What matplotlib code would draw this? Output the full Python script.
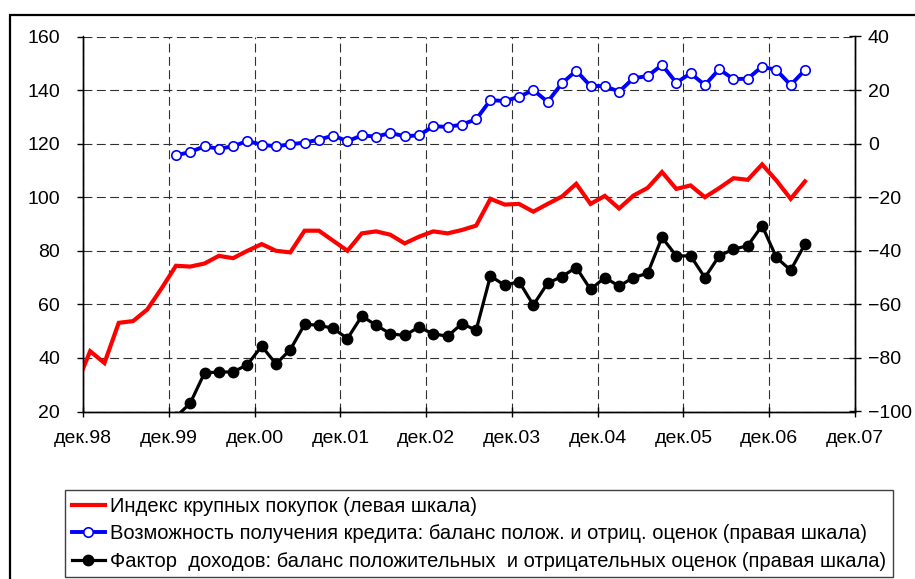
import matplotlib
matplotlib.use("Agg")
import matplotlib.pyplot as plt
from matplotlib.lines import Line2D
from matplotlib.patches import Rectangle

plt.rcParams['font.family'] = ['Liberation Sans', 'DejaVu Sans']

# months since December 1998
x_labels = ["дек.98", "дек.99", "дек.00", "дек.01", "дек.02",
            "дек.03", "дек.04", "дек.05", "дек.06", "дек.07"]
x_ticks = [0, 12, 24, 36, 48, 60, 72, 84, 96, 108]

purchase_months = [0] + list(range(1, 102, 2))
purchase_index = [36, 42.5, 38.1, 53.1, 53.75, 58.1, 66, 74.4, 74.1, 75.25,
                  78.1, 77.25, 80, 82.5, 80, 79.4, 87.5, 87.5, 83.75, 80,
                  86.5, 87.25, 86, 82.75, 85.25, 87.25, 86.5, 87.75, 89.4, 99.4,
                  97.25, 97.5, 94.6, 97.5, 100.25, 105, 97.5, 100.5, 95.8, 100.6,
                  103.5, 109.4, 103.1, 104.4, 100, 103.4, 107.1, 106.5, 112.25, 106.25,
                  99.4, 105.9]

survey_months = list(range(13, 102, 2))
credit_balance = [-4.4, -3.1, -1, -1.9, -1, 1, -0.4, -1, -0.25, 0.4,
                  1.5, 3, 0.9, 3.1, 2.6, 4, 2.75, 3.1, 6.5, 6.25,
                  7.1, 9.1, 16.25, 15.9, 17.5, 20, 15.6, 22.5, 27.25, 21.5,
                  21.5, 19.4, 24.4, 25.25, 29.4, 22.75, 26.25, 21.9, 27.75, 24.1,
                  24.25, 28.75, 27.5, 21.9, 27.5]
income_balance = [-102, -96.9, -85.6, -85.25, -85.25, -82.5, -75.6, -82.25, -76.9, -67.5,
                  -67.75, -69, -72.75, -64.4, -67.75, -71, -71.6, -68.5, -71, -71.9,
                  -67.25, -69.6, -49.4, -52.9, -51.5, -60.25, -52.1, -49.6, -46.25, -54.4,
                  -50, -53.2, -50, -48.4, -35, -41.9, -41.9, -50, -41.9, -39.4,
                  -38.1, -30.6, -42.5, -47.25, -37.5]

left_ticks = [20, 40, 60, 80, 100, 120, 140, 160]
right_ticks = [-100, -80, -60, -40, -20, 0, 20, 40]

labels = ["Индекс крупных покупок (левая шкала)",
          "Возможность получения кредита: баланс полож. и отриц. оценок (правая шкала)",
          "Фактор  доходов: баланс положительных  и отрицательных оценок (правая шкала)"]

W, H = 915, 579
fig = plt.figure(figsize=(W / 100, H / 100), dpi=100)

# outer frame
fig.patches.append(Rectangle((10 / W, -0.1), 1.2, 1 - 15 / H + 0.1, transform=fig.transFigure,
                             fill=False, edgecolor='black', linewidth=1.6))

ax = fig.add_axes([83 / W, 1 - 411.5 / H, (855 - 83) / W, (411.5 - 36.5) / H])
ax2 = ax.twinx()

ax.set_xlim(0, 108)
ax.set_ylim(20, 160)
ax2.set_ylim(-100, 40)

ax.set_xticks(x_ticks)
ax.set_xticklabels(x_labels)
ax.set_yticks(left_ticks)
ax2.set_yticks(right_ticks)

grid_style = dict(color='#303030', linewidth=0.8, linestyle=(0, (8, 4)))
ax.grid(True, **grid_style)
ax.set_axisbelow(True)

for a in (ax, ax2):
    a.spines['top'].set_visible(False)
    for s in ('left', 'right', 'bottom'):
        a.spines[s].set_linewidth(1.0)
        a.spines[s].set_color('black')

ax.tick_params(axis='y', direction='out', length=4.5, width=1, labelsize=14, pad=12)
ax.tick_params(axis='x', direction='inout', length=6.5, width=1, labelsize=14, pad=10)
ax2.tick_params(axis='y', direction='inout', length=8.5, width=1, labelsize=14, pad=5)

ax.plot(purchase_months, purchase_index, color='#ff0000', linewidth=3.0,
        solid_joinstyle='miter', zorder=3)
ax2.plot(survey_months, income_balance, color='black', linewidth=2.3,
         marker='o', markersize=7.5, markerfacecolor='black', markeredgecolor='black', zorder=3)
ax2.plot(survey_months, credit_balance, color='#0000ff', linewidth=2.8,
         marker='o', markersize=6.8, markerfacecolor='white', markeredgecolor='#0000ff',
         markeredgewidth=1.2, zorder=4)

handles = [Line2D([], [], color='#ff0000', linewidth=3.0),
           Line2D([], [], color='#0000ff', linewidth=2.8, marker='o', markersize=6.8,
                  markerfacecolor='white', markeredgecolor='#0000ff', markeredgewidth=1.2),
           Line2D([], [], color='black', linewidth=2.3, marker='o', markersize=7.5,
                  markerfacecolor='black')]
leg = fig.legend(handles, labels, loc='upper left', bbox_to_anchor=(65 / W, 1 - 490 / H),
                 borderaxespad=0, fontsize=14.5, frameon=True, fancybox=False, framealpha=1,
                 edgecolor='#404040', handlelength=1.65, handletextpad=0.25,
                 borderpad=0.33, labelspacing=0.42)
leg.get_frame().set_linewidth(1.0)

fig.savefig('out.png', dpi=100)
